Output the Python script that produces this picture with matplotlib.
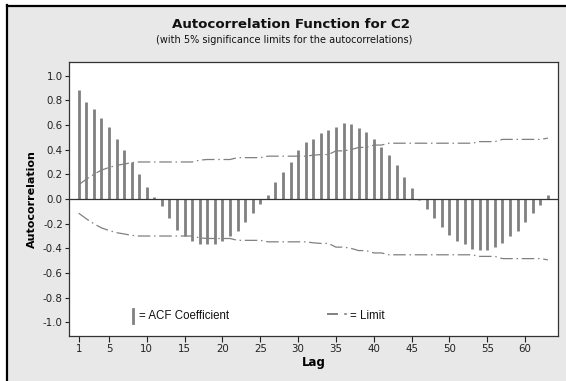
import matplotlib
matplotlib.use('Agg')
import matplotlib.pyplot as plt
from matplotlib.lines import Line2D
from matplotlib.patches import Rectangle

plt.rcParams['axes.unicode_minus'] = False

# ---- data ----
lags = list(range(1, 64))
acf = [0.886, 0.787, 0.730, 0.659, 0.586, 0.487, 0.397, 0.302, 0.205, 0.097,
       0.016, -0.060, -0.157, -0.249, -0.298, -0.344, -0.365, -0.362, -0.365, -0.344,
       -0.300, -0.257, -0.183, -0.112, -0.038, 0.036, 0.138, 0.221, 0.302, 0.397,
       0.459, 0.487, 0.532, 0.559, 0.586, 0.613, 0.605, 0.578, 0.543, 0.487,
       0.424, 0.359, 0.276, 0.178, 0.086, -0.005, -0.081, -0.154, -0.230, -0.290,
       -0.344, -0.365, -0.403, -0.411, -0.411, -0.390, -0.357, -0.300, -0.256, -0.183,
       -0.114, -0.052, 0.032]
limit = [0.115, 0.160, 0.200, 0.234, 0.255, 0.273, 0.283, 0.295, 0.300, 0.300,
         0.300, 0.300, 0.300, 0.300, 0.300, 0.300, 0.315, 0.320, 0.320, 0.320,
         0.320, 0.335, 0.335, 0.335, 0.335, 0.347, 0.347, 0.347, 0.347, 0.347,
         0.347, 0.355, 0.360, 0.360, 0.390, 0.390, 0.400, 0.418, 0.418, 0.437,
         0.437, 0.452, 0.452, 0.452, 0.452, 0.452, 0.452, 0.452, 0.452, 0.452,
         0.452, 0.452, 0.452, 0.465, 0.465, 0.465, 0.483, 0.483, 0.483, 0.483,
         0.483, 0.483, 0.493]
lower = [-v for v in limit]
yticks = [1.0, 0.8, 0.6, 0.4, 0.2, 0.0, -0.2, -0.4, -0.6, -0.8, -1.0]
xticks = [1, 5, 10, 15, 20, 25, 30, 35, 40, 45, 50, 55, 60]

title = "Autocorrelation Function for C2"
subtitle = "(with 5% significance limits for the autocorrelations)"

# ---- figure ----
W, H = 566, 381
fig = plt.figure(figsize=(W / 100, H / 100), dpi=100)
fig.patch.set_facecolor('#e8e8e8')

# screenshot frame: white outside, black border top/left
fig.patches.append(Rectangle((0, 0), 6 / W, 1, transform=fig.transFigure,
                             facecolor='white', edgecolor='none', zorder=0))
fig.patches.append(Rectangle((0, 1 - 5 / H), 1, 5 / H, transform=fig.transFigure,
                             facecolor='white', edgecolor='none', zorder=0))
fig.add_artist(Line2D([7 / W, 7 / W], [0, 1 - 5 / H], transform=fig.transFigure,
                      color='black', lw=1.6))
fig.add_artist(Line2D([7 / W, 1], [1 - 6 / H, 1 - 6 / H], transform=fig.transFigure,
                      color='black', lw=1.6))

ax = fig.add_axes([69 / W, 1 - 336 / H, (557.7 - 69) / W, (336 - 62) / H])
ax.set_facecolor('white')

grey = '#808080'
ax.vlines(lags, 0, acf, color=grey, lw=2.0, zorder=3)
ax.axhline(0, color='#333333', lw=0.9, zorder=4)
ax.plot(lags, limit, color=grey, lw=0.9, dashes=(10, 3, 1.2, 3), zorder=2)
ax.plot(lags, lower, color=grey, lw=0.9, dashes=(10, 3, 1.2, 3), zorder=2)

ax.set_xlim(-0.28, 64.3)
ax.set_ylim(-1.11, 1.11)
ax.set_yticks(yticks)
ax.set_yticklabels([f"{v:.1f}" for v in yticks])
ax.set_xticks(xticks)
ax.set_xticklabels([str(v) for v in xticks])
ax.tick_params(axis='y', direction='out', length=3, width=0.8, pad=1.5,
               labelsize=7.4, colors='#222222')
ax.tick_params(axis='x', direction='out', length=4, width=0.8, pad=1.5,
               labelsize=7.4, colors='#222222')
for lab in ax.get_xticklabels() + ax.get_yticklabels():
    lab.set_family('DejaVu Sans')
for s in ax.spines.values():
    s.set_color('#333333')
    s.set_linewidth(0.9)

ax.set_ylabel('Autocorrelation', fontsize=8, fontweight='bold', family='DejaVu Sans',
              labelpad=4)
ax.set_xlabel('Lag', fontsize=8.5, fontweight='bold', family='DejaVu Sans', labelpad=2)

fig.text(291 / W, 1 - 25 / H, title, ha='center', va='center', fontsize=9.6,
         fontweight='bold', family='DejaVu Sans', color='#111111')
fig.text(284 / W, 1 - 40 / H, subtitle, ha='center', va='center', fontsize=7,
         family='DejaVu Sans', color='#111111')

# ---- legend ----
fig.add_artist(Line2D([133.3 / W, 133.3 / W], [1 - 309 / H, 1 - 323 / H],
                      transform=fig.transFigure, color=grey, lw=2.0))
fig.text(139 / W, 1 - 316 / H, '= ACF Coefficient', ha='left', va='center',
         fontsize=8.3, family='Liberation Sans', color='#111111')
fig.add_artist(Line2D([328.3 / W, 336.7 / W], [1 - 314 / H, 1 - 314 / H],
                      transform=fig.transFigure, color=grey, lw=1.4))
fig.add_artist(Line2D([344.5 / W, 345.5 / W], [1 - 314 / H, 1 - 314 / H],
                      transform=fig.transFigure, color=grey, lw=1.2))
fig.text(350.5 / W, 1 - 316 / H, '= Limit', ha='left', va='center',
         fontsize=8.3, family='Liberation Sans', color='#111111')

fig.savefig('out.png', dpi=100, facecolor=fig.get_facecolor())
